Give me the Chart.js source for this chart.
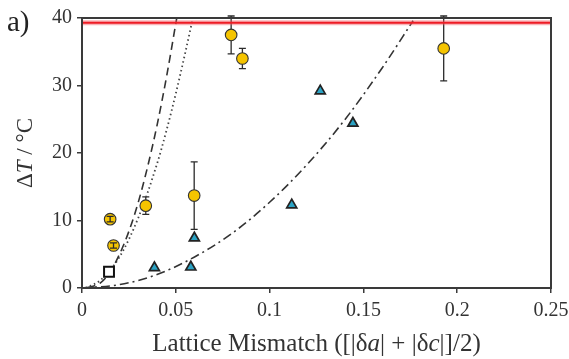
<!DOCTYPE html>
<html>
<head>
<meta charset="utf-8">
<script src="https://cdn.jsdelivr.net/npm/chart.js@4.4.1/dist/chart.umd.min.js"></script>
<style>
  html, body { margin: 0; padding: 0; background: #fff; }
  #wrap { width: 569px; height: 359px; position: relative; }
</style>
</head>
<body>
<div id="wrap"><canvas id="chart" width="569" height="359"></canvas></div>
<script>
// yellow circles (with error bars)
const circX = [0.0150, 0.0168, 0.0340, 0.0598, 0.0795, 0.0855, 0.1928];
const circY = [10.2, 6.3, 12.2, 13.7, 37.5, 34.0, 35.5];
const circErr = [0.4, 0.4, 1.3, 5.0, 2.8, 1.5, 4.8];

// blue triangles
const triX = [0.0386, 0.0580, 0.0599, 0.1118, 0.1270, 0.1444];
const triY = [3.0, 3.1, 7.4, 12.3, 29.2, 24.4];

// open square
const sqX = [0.0144];
const sqY = [2.4];

// guide curves
const dashX = [0.003, 0.010, 0.015, 0.020, 0.025, 0.030, 0.035, 0.040, 0.045, 0.0505];
const dashY = [0, 0.8, 2.4, 5.0, 8.4, 12.7, 18.0, 24.1, 31.2, 40.0];
const dotX = [0.002, 0.010, 0.020, 0.030, 0.040, 0.045, 0.050, 0.055, 0.0588];
const dotY = [0, 1.2, 4.6, 10.4, 18.4, 23.3, 28.8, 34.8, 39.6];
const dashDotX = [0, 0.02, 0.04, 0.06, 0.08, 0.10, 0.12, 0.14, 0.16, 0.1765];
const dashDotY = [0, 0.5, 2.0, 4.6, 8.1, 12.7, 18.3, 24.9, 32.6, 39.6];

// red limit line
const limitY = 39.3;

const xTickLabels = ['0', '0.05', '0.1', '0.15', '0.2', '0.25'];
const yTickLabels = ['0', '10', '20', '30', '40'];

const xTitleParts = [['Lattice Mismatch ([|δ', false], ['a', true], ['| + |δ', false], ['c', true], ['|]/2)', false]];
const yTitleParts = [['Δ', false], ['T', true], [' / °C', false]];
const panelLabel = 'a)';

function pts(xs, ys) {
    return xs.map((x, i) => ({ x: x, y: ys[i] }));
}

const serif = '"Liberation Serif", "DejaVu Serif", serif';
const ink = '#333333';

function drawRich(ctx, parts, size) {
    let total = 0;
    parts.forEach(p => {
        ctx.font = (p[1] ? 'italic ' : '') + size + 'px ' + serif;
        total += ctx.measureText(p[0]).width;
    });
    let x = -total / 2;
    parts.forEach(p => {
        ctx.font = (p[1] ? 'italic ' : '') + size + 'px ' + serif;
        ctx.fillText(p[0], x, 0);
        x += ctx.measureText(p[0]).width;
    });
}

const errorBars = {
    id: 'errorBars',
    draw(chart, onTop) {
        const ctx = chart.ctx;
        const xs = chart.scales.x, ys = chart.scales.y;
        ctx.save();
        ctx.strokeStyle = '#2b2b2b';
        ctx.lineWidth = 1.3;
        circX.forEach((v, i) => {
            const px = xs.getPixelForValue(v);
            const top = ys.getPixelForValue(circY[i] + circErr[i]);
            const bot = ys.getPixelForValue(circY[i] - circErr[i]);
            const small = (bot - top) < 11;
            if (small !== onTop) return;
            ctx.beginPath();
            ctx.moveTo(px, top); ctx.lineTo(px, bot);
            ctx.moveTo(px - 3.5, top); ctx.lineTo(px + 3.5, top);
            ctx.moveTo(px - 3.5, bot); ctx.lineTo(px + 3.5, bot);
            ctx.stroke();
        });
        ctx.restore();
    },
    beforeDatasetsDraw(chart) { this.draw(chart, false); },
    afterDatasetsDraw(chart) { this.draw(chart, true); }
};

const frameAndText = {
    id: 'frameAndText',
    afterDraw(chart) {
        const ctx = chart.ctx;
        const a = chart.chartArea;
        ctx.save();
        ctx.strokeStyle = '#3a3a3a';
        ctx.lineWidth = 2;
        ctx.strokeRect(a.left, a.top, a.right - a.left, a.bottom - a.top);

        ctx.fillStyle = '#222';
        ctx.textBaseline = 'alphabetic';
        ctx.font = '29px ' + serif;
        ctx.fillText(panelLabel, 7, 31);

        ctx.fillStyle = ink;
        ctx.save();
        ctx.translate((a.left + a.right) / 2, 351);
        drawRich(ctx, xTitleParts, 25);
        ctx.restore();

        ctx.save();
        ctx.translate(32, (a.top + a.bottom) / 2);
        ctx.rotate(-Math.PI / 2);
        drawRich(ctx, yTitleParts, 23);
        ctx.restore();
        ctx.restore();
    }
};

new Chart(document.getElementById('chart'), {
    type: 'scatter',
    data: {
        datasets: [
            {
                label: 'circles',
                data: pts(circX, circY),
                pointStyle: 'circle',
                pointRadius: 5.8,
                backgroundColor: '#f5c400',
                borderColor: '#333',
                borderWidth: 1.1
            },
            {
                label: 'triangles',
                data: pts(triX, triY),
                pointStyle: 'triangle',
                pointRadius: 5.8,
                backgroundColor: '#2ba3c4',
                borderColor: '#222',
                borderWidth: 1.7
            },
            {
                label: 'square',
                data: pts(sqX, sqY),
                pointStyle: 'rect',
                pointRadius: 7,
                backgroundColor: '#ffffff',
                borderColor: '#111',
                borderWidth: 2
            },
            {
                label: 'limit',
                data: [{ x: 0, y: limitY }, { x: 0.25, y: limitY }],
                showLine: true,
                pointRadius: 0,
                borderColor: '#ee1c25',
                borderWidth: 2
            },
            {
                label: 'limit halo',
                data: [{ x: 0, y: limitY }, { x: 0.25, y: limitY }],
                showLine: true,
                pointRadius: 0,
                borderColor: 'rgba(240, 90, 100, 0.45)',
                borderWidth: 5
            },
            {
                label: 'dashed',
                data: pts(dashX, dashY),
                showLine: true,
                pointRadius: 0,
                borderColor: '#333',
                borderWidth: 1.6,
                borderDash: [8, 5],
                cubicInterpolationMode: 'monotone'
            },
            {
                label: 'dotted',
                data: pts(dotX, dotY),
                showLine: true,
                pointRadius: 0,
                borderColor: '#444',
                borderWidth: 1.8,
                borderDash: [1.5, 3],
                cubicInterpolationMode: 'monotone'
            },
            {
                label: 'dash-dot',
                data: pts(dashDotX, dashDotY),
                showLine: true,
                pointRadius: 0,
                borderColor: '#333',
                borderWidth: 1.6,
                borderDash: [9, 4, 2, 4],
                cubicInterpolationMode: 'monotone'
            }
        ]
    },
    options: {
        responsive: false,
        animation: false,
        devicePixelRatio: 1,
        layout: { padding: { top: 18, right: 18, left: 0, bottom: 0 } },
        plugins: {
            legend: { display: false },
            tooltip: { enabled: false }
        },
        scales: {
            x: {
                type: 'linear',
                min: 0,
                max: 0.25,
                afterFit: function(scale) {
                    scale.height = 71;
                    scale.paddingRight = 0;
                    scale.paddingLeft = 0;
                },
                afterBuildTicks: function(scale) {
                    scale.ticks = xTickLabels.map(t => ({ value: parseFloat(t) }));
                },
                ticks: {
                    padding: 6,
                    color: ink,
                    autoSkip: false,
                    maxRotation: 0,
                    minRotation: 0,
                    font: { family: serif, size: 20 },
                    callback: function(value, index) { return xTickLabels[index]; }
                },
                grid: { drawOnChartArea: false, drawTicks: true, tickLength: 5, color: '#3a3a3a', lineWidth: 1.5 },
                border: { display: true, color: '#3a3a3a', width: 2 }
            },
            y: {
                type: 'linear',
                min: 0,
                max: 40,
                afterFit: function(scale) {
                    scale.width = 82;
                    scale.paddingTop = 0;
                    scale.paddingBottom = 0;
                },
                afterBuildTicks: function(scale) {
                    scale.ticks = yTickLabels.map(t => ({ value: parseFloat(t) }));
                },
                ticks: {
                    padding: 5,
                    color: ink,
                    autoSkip: false,
                    font: { family: serif, size: 20 },
                    callback: function(value, index) { return yTickLabels[index]; }
                },
                grid: { drawOnChartArea: false, drawTicks: true, tickLength: 5, color: '#3a3a3a', lineWidth: 1.5 },
                border: { display: true, color: '#3a3a3a', width: 2 }
            }
        }
    },
    plugins: [errorBars, frameAndText]
});
</script>
</body>
</html>
